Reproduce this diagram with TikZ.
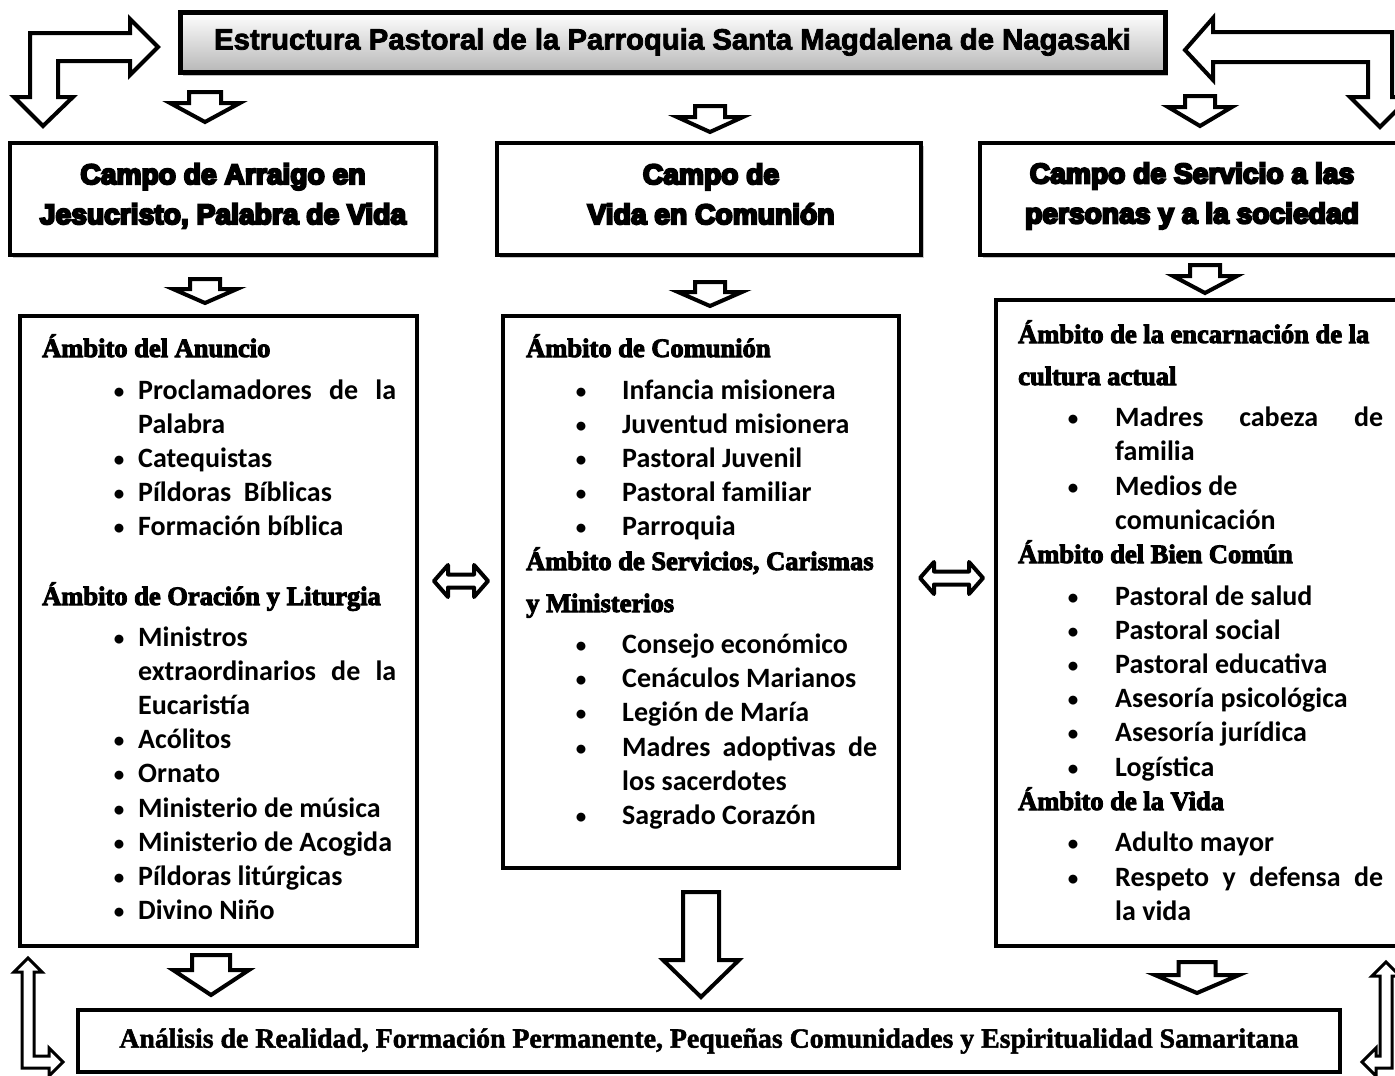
\documentclass[tikz,border=0pt]{standalone}
\usepackage{fontspec}
\setmainfont{Liberation Serif}
\newfontfamily\titlefont{Liberation Sans}
\newfontfamily\campofont{Liberation Sans}
\newfontfamily\itemfont{Carlito}
\usetikzlibrary{shadows}
% heavier strokes for bold display text (text render mode fill+stroke)
\newcommand\heavy[2]{\special{pdf:literal direct 2 Tr #1 w}#2\special{pdf:literal direct 0 Tr}}

\tikzset{
  box/.style={draw, line width=4pt, fill=white, inner sep=0pt},
  barrow/.style={draw, line width=4pt, fill=white, line join=miter},
  thinarrow/.style={draw, line width=3pt, fill=white, line join=miter},
  hd/.style={anchor=base west, inner sep=0pt, font=\fontsize{26.5}{30}\selectfont\bfseries},
  it/.style={anchor=base west, inner sep=0pt, font=\itemfont\fontsize{28}{34}\selectfont\bfseries},
  bl/.style={anchor=base, inner sep=0pt, font=\itemfont\fontsize{21}{34}\selectfont\bfseries},
  campobox/.style={box, drop shadow={opacity=0.45, shadow xshift=3pt, shadow yshift=-3pt}},
  campotext/.style={align=center, inner sep=0pt, font=\campofont\bfseries\fontsize{28.2}{40}\selectfont},
}

\newcounter{ln}
% heading line: x, baseline, text
\newcommand\Hd[3]{\stepcounter{ln}\node[hd] (t\theln) at (#1,#2) {\heavy{1.0}{#3}};}
% bullet item: bullet x, text x, baseline, text
\newcommand\It[4]{\stepcounter{ln}\node[bl] (b\theln) at (#1,{#3-1}) {•};\node[it] (t\theln) at (#2,#3) {#4};}
% continuation line: text x, baseline, text
\newcommand\Ct[3]{\stepcounter{ln}\node[it] (t\theln) at (#1,#2) {#3};}
% justified item: bullet x, text x, baseline, width, text
\newcommand\Ij[5]{\stepcounter{ln}\node[bl] (b\theln) at (#1,{#3-1}) {•};\node[it] (t\theln) at (#2,#3) {\makebox[#4pt][s]{#5}};}
\newcommand\Cj[4]{\stepcounter{ln}\node[it] (t\theln) at (#1,#2) {\makebox[#3pt][s]{#4}};}
% small down block arrow: cx, top, head width, shaft width, shaft height, tip y
\newcommand\SArr[6]{\draw[barrow] ({#1-#4/2},#2) -- ({#1+#4/2},#2) -- ({#1+#4/2},{#2+#5}) -- ({#1+#3/2},{#2+#5}) -- (#1,#6) -- ({#1-#3/2},{#2+#5}) -- ({#1-#4/2},{#2+#5}) -- cycle;}
% horizontal double block arrow: left tip x, right tip x, cy
\newcommand\DArr[3]{\draw[line width=4pt, fill=white, line join=round] (#1,#3) -- ({#1+14},{#3-16}) -- ({#1+14},{#3-6.5}) -- ({#2-14},{#3-6.5}) -- ({#2-14},{#3-16}) -- (#2,#3) -- ({#2-14},{#3+16}) -- ({#2-14},{#3+6.5}) -- ({#1+14},{#3+6.5}) -- ({#1+14},{#3+16}) -- cycle;}

\begin{document}
\begin{tikzpicture}[x=1pt,y=-1pt]
\useasboundingbox (0,0) rectangle (1395,1076);
\clip (0,0) rectangle (1395,1076);

% ---------- title ----------
\node[draw, line width=5pt, inner sep=0pt, minimum width=985pt, minimum height=60pt,
      top color=white, bottom color=black!28,
      drop shadow={opacity=0.5, shadow xshift=3pt, shadow yshift=-4pt},
      font=\titlefont\bfseries\fontsize{29.3}{34}\selectfont] (title) at (672.5,42)
      {\heavy{0.8}{Estructura Pastoral de la Parroquia Santa Magdalena de Nagasaki}};

% ---------- bent arrows top ----------
\draw[barrow] (158,47) -- (130,19) -- (130,33) -- (30,33) -- (30,97) -- (14,97) -- (43,126)
   -- (73,97) -- (58,97) -- (58,61) -- (130,61) -- (130,75) -- cycle;
\draw[barrow] (1185,50) -- (1213,18) -- (1213,32) -- (1392,32) -- (1392,97) -- (1410,97) -- (1380,127)
   -- (1350,97) -- (1368,97) -- (1368,62) -- (1213,62) -- (1213,80) -- cycle;

% ---------- small arrows under title ----------
\SArr{205}{92}{70}{32}{11}{122}
\SArr{710}{106}{66}{30}{11}{132}
\SArr{1200}{96}{64}{30}{11}{126}

% ---------- campo headers ----------
\node[campobox, minimum width=426pt, minimum height=112pt] (h1) at (223,199) {};
\node[campobox, minimum width=424pt, minimum height=112pt] (h2) at (709,199) {};
\node[campobox, minimum width=424pt, minimum height=112pt] (h3) at (1192,199) {};
\node[campotext] (h1t) at (223,196) {\heavy{2.2}{Campo de Arraigo en}\\\heavy{2.2}{Jesucristo, Palabra de Vida}};
\node[campotext] (h2t) at (711,194) {\heavy{2.2}{Campo de}\\\heavy{2.2}{Vida en Comunión}};
\node[campotext] (h3t) at (1192,196) {\heavy{2.2}{Campo de Servicio a las}\\\heavy{2.2}{personas y a la sociedad}};

% ---------- small arrows under headers ----------
\SArr{205}{279}{64}{30}{10}{303}
\SArr{710}{282}{64}{30}{10}{306}
\SArr{1205}{265}{64}{30}{11}{293}

% ---------- content boxes ----------
\node[box, line width=3.5pt, minimum width=397pt, minimum height=630pt] (c1) at (218.5,631) {};
\node[box, line width=3.5pt, minimum width=396pt, minimum height=552pt] (c2) at (701,592) {};
\node[box, line width=3.5pt, minimum width=414pt, minimum height=646pt] (c3) at (1203,623) {};

% left box text
\Hd{42}{357}{Ámbito del Anuncio}
\Ij{119}{138}{399}{258}{Proclamadores de la}
\Ct{138}{433}{Palabra}
\It{119}{138}{467}{Catequistas}
\It{119}{138}{501}{Píldoras\ \ Bíblicas}
\It{119}{138}{535}{Formación bíblica}
\Hd{42}{605}{Ámbito de Oración y Liturgia}
\It{119}{138}{646}{Ministros}
\Cj{138}{680}{258}{extraordinarios de la}
\Ct{138}{714}{Eucaristía}
\It{119}{138}{748}{Acólitos}
\It{119}{138}{782}{Ornato}
\It{119}{138}{817}{Ministerio de música}
\It{119}{138}{851}{Ministerio de Acogida}
\It{119}{138}{885}{Píldoras litúrgicas}
\It{119}{138}{919}{Divino Niño}

% middle box text
\Hd{526}{357}{Ámbito de Comunión}
\It{581}{622}{399}{Infancia misionera}
\It{581}{622}{433}{Juventud misionera}
\It{581}{622}{467}{Pastoral Juvenil}
\It{581}{622}{501}{Pastoral familiar}
\It{581}{622}{535}{Parroquia}
\Hd{526}{570}{Ámbito de Servicios, Carismas}
\Hd{526}{612}{y Ministerios}
\It{581}{622}{653}{Consejo económico}
\It{581}{622}{687}{Cenáculos Marianos}
\It{581}{622}{721}{Legión de María}
\Ij{581}{622}{756}{255}{Madres adoptivas de}
\Ct{622}{790}{los sacerdotes}
\It{581}{622}{824}{Sagrado Corazón}

% right box text
\Hd{1018}{343}{Ámbito de la encarnación de la}
\Hd{1018}{385}{cultura actual}
\Ij{1073}{1115}{426}{268}{Madres cabeza de}
\Ct{1115}{460}{familia}
\It{1073}{1115}{495}{Medios de}
\Ct{1115}{529}{comunicación}
\Hd{1018}{563}{Ámbito del Bien Común}
\It{1073}{1115}{605}{Pastoral de salud}
\It{1073}{1115}{639}{Pastoral social}
\It{1073}{1115}{673}{Pastoral educativa}
\It{1073}{1115}{707}{Asesoría psicológica}
\It{1073}{1115}{741}{Asesoría jurídica}
\It{1073}{1115}{776}{Logística}
\Hd{1018}{810}{Ámbito de la Vida}
\It{1073}{1115}{851}{Adulto mayor}
\Ij{1073}{1115}{886}{268}{Respeto y defensa de}
\Ct{1115}{920}{la vida}

% ---------- double arrows ----------
\DArr{434}{488}{581}
\DArr{920}{983}{578}

% ---------- big middle arrow ----------
\draw[barrow] (683,892) -- (719,892) -- (719,960) -- (739,960) -- (701,997) -- (663,960) -- (683,960) -- cycle;

% ---------- small arrows above bottom ----------
\SArr{211}{955}{76}{38}{15}{995}
\SArr{1197}{962}{84}{37}{13}{993}

% ---------- bottom box ----------
\node[box, minimum width=1262pt, minimum height=62pt,
      font=\fontsize{27.8}{32}\selectfont\bfseries] (bot) at (709,1041)
      {\heavy{0.5}{Análisis de Realidad, Formación Permanente, Pequeñas Comunidades y Espiritualidad Samaritana}};

% ---------- corner L arrows ----------
\draw[thinarrow] (28,958) -- (42,972) -- (34,972) -- (34,1056) -- (49,1056) -- (49,1048) -- (63,1062)
   -- (49,1076) -- (49,1068) -- (22,1068) -- (22,972) -- (14,972) -- cycle;
\draw[thinarrow] (1386,962) -- (1372,976) -- (1380,976) -- (1380,1056) -- (1376,1056) -- (1376,1048) -- (1362,1062)
   -- (1376,1076) -- (1376,1068) -- (1392,1068) -- (1392,976) -- (1400,976) -- cycle;
\end{tikzpicture}
\end{document}
